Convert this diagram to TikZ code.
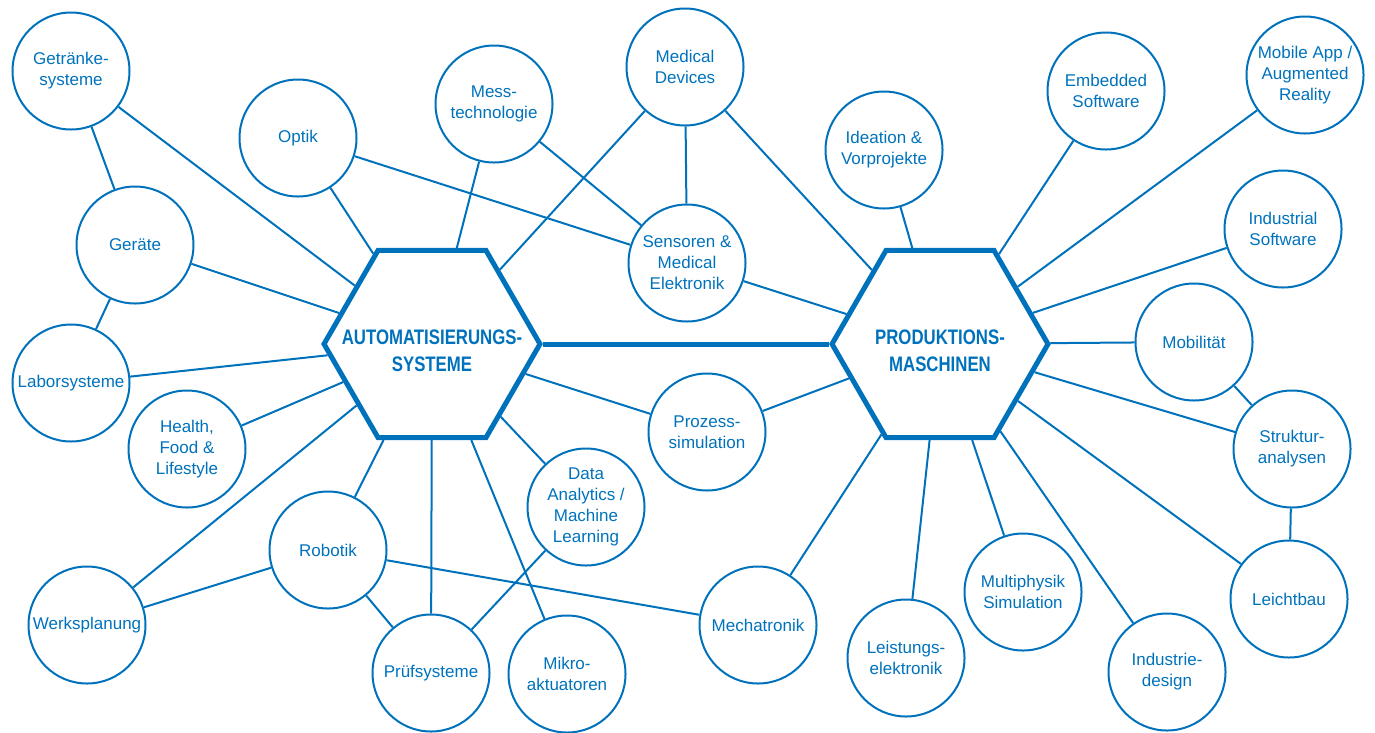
\documentclass[tikz,border=0pt]{standalone}
\usepackage{fontspec}
\setmainfont{Liberation Sans}
\newfontfamily\hexfont[FakeStretch=0.8]{Liberation Sans}
\usetikzlibrary{shapes.geometric}
\definecolor{mainblue}{RGB}{0,114,188}

\begin{document}
\begin{tikzpicture}[x=1pt,y=-1pt]
	\tikzstyle{every node}+=[inner sep=0pt]
	\tikzstyle{topic}=[draw=mainblue, line width=2pt, circle, minimum size=117pt, align=center, text=mainblue, font=\fontsize{17}{21}\selectfont]
	\tikzstyle{hexa}=[draw=mainblue, line width=5pt, regular polygon, regular polygon sides=6, minimum size=216pt]
	\tikzstyle{hextext}=[align=center, text=mainblue, yshift=-7pt, font=\hexfont\bfseries\fontsize{21}{27}\selectfont]
	\tikzstyle{link}=[draw=mainblue, line width=2pt]
	\useasboundingbox (0,0) rectangle (1375,732);
	\node [hexa] (auto) at (432,344) {};
	\node [hextext] (autotext) at (auto) {AUTOMATISIERUNGS-\\SYSTEME};
	\node [hexa] (prod) at (940,344) {};
	\node [hextext] (prodtext) at (prod) {PRODUKTIONS-\\MASCHINEN};
	\node [topic] (getraenke) at (71,71) {Getränke-\\systeme};
	\node [topic] (geraete) at (135,245) {Geräte};
	\node [topic] (labor) at (71,383) {Laborsysteme};
	\node [topic] (health) at (187,449) {Health,\\Food \&\\Lifestyle};
	\node [topic] (werks) at (87,625) {Werksplanung};
	\node [topic] (robotik) at (328,550) {Robotik};
	\node [topic] (pruef) at (431,673) {Prüfsysteme};
	\node [topic] (mikro) at (567,674) {Mikro-\\aktuatoren};
	\node [topic] (data) at (586,507) {Data\\Analytics /\\Machine\\Learning};
	\node [topic] (optik) at (298,138) {Optik};
	\node [topic] (mess) at (494,104) {Mess-\\technologie};
	\node [topic] (meddev) at (685,67) {Medical\\Devices};
	\node [topic] (sensoren) at (687,263) {Sensoren \&\\Medical\\Elektronik};
	\node [topic] (ideation) at (884,150) {Ideation \&\\Vorprojekte};
	\node [topic] (prozess) at (707,432) {Prozess-\\simulation};
	\node [topic] (mecha) at (758,625) {Mechatronik};
	\node [topic] (leistung) at (906,658) {Leistungs-\\elektronik};
	\node [topic] (multi) at (1023,592) {Multiphysik\\Simulation};
	\node [topic] (industrie) at (1167,672) {Industrie-\\design};
	\node [topic] (embedded) at (1106,91) {Embedded\\Software};
	\node [topic] (mobileapp) at (1305,75) {Mobile App /\\Augmented\\Reality};
	\node [topic] (indsoft) at (1283,229) {Industrial\\Software};
	\node [topic] (mobil) at (1194,342) {Mobilität};
	\node [topic] (struktur) at (1292,449) {Struktur-\\analysen};
	\node [topic] (leicht) at (1289,599) {Leichtbau};
	\draw [link, line width=5pt] (auto.east) -- (prod.west);
	\draw [link] (getraenke) -- (geraete);
	\draw [link] (getraenke) -- (auto);
	\draw [link] (geraete) -- (labor);
	\draw [link] (geraete) -- (auto);
	\draw [link] (labor) -- (auto);
	\draw [link] (health) -- (auto);
	\draw [link] (werks) -- (auto);
	\draw [link] (werks) -- (robotik);
	\draw [link] (robotik) -- (auto);
	\draw [link] (robotik) -- (pruef);
	\draw [link] (robotik) -- (mecha);
	\draw [link] (pruef) -- (auto);
	\draw [link] (pruef) -- (data);
	\draw [link] (mikro) -- (auto);
	\draw [link] (data) -- (auto);
	\draw [link] (optik) -- (auto);
	\draw [link] (optik) -- (sensoren);
	\draw [link] (mess) -- (auto);
	\draw [link] (mess) -- (sensoren);
	\draw [link] (meddev) -- (auto);
	\draw [link] (meddev) -- (sensoren);
	\draw [link] (meddev) -- (prod);
	\draw [link] (sensoren) -- (prod);
	\draw [link] (ideation) -- (prod);
	\draw [link] (prozess) -- (auto);
	\draw [link] (prozess) -- (prod);
	\draw [link] (mecha) -- (prod);
	\draw [link] (leistung) -- (prod);
	\draw [link] (multi) -- (prod);
	\draw [link] (industrie) -- (prod);
	\draw [link] (embedded) -- (prod);
	\draw [link] (mobileapp) -- (prod);
	\draw [link] (indsoft) -- (prod);
	\draw [link] (mobil) -- (prod);
	\draw [link] (mobil) -- (struktur);
	\draw [link] (struktur) -- (prod);
	\draw [link] (struktur) -- (leicht);
	\draw [link] (leicht) -- (prod);
\end{tikzpicture}
\end{document}
